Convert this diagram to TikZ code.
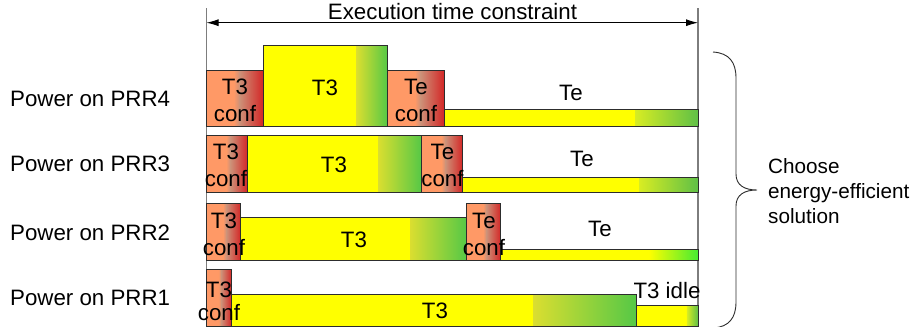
\documentclass[tikz,border=0pt]{standalone}
\usepackage{fontspec}
\setmainfont{Liberation Sans}
\usetikzlibrary{arrows.meta}

\definecolor{salmon}{RGB}{255,153,102}
\definecolor{confmid}{RGB}{205,145,120}
\definecolor{confred}{RGB}{212,38,38}
\definecolor{runyel}{RGB}{255,255,0}
\definecolor{runstart}{RGB}{218,222,48}
\definecolor{rungrn}{RGB}{85,200,70}
\definecolor{stripe}{RGB}{215,236,35}
\definecolor{bargrn}{RGB}{95,192,70}
\definecolor{brightgrn}{RGB}{70,235,50}
\definecolor{edge}{RGB}{45,45,45}
\definecolor{guide}{RGB}{125,125,125}

% configuration slot: salmon, then a darkening blend to red
\newcommand\confslot[4]{%
  \pgfmathsetmacro\cxa{#1+0.48*(#3-#1)}%
  \pgfmathsetmacro\cxb{#1+0.58*(#3-#1)}%
  \fill[salmon] (#1,#2) rectangle (\cxa,#4);
  \shade[left color=salmon, right color=confmid] (\cxa,#2) rectangle (\cxb,#4);
  \shade[left color=confmid, right color=confred] (\cxb,#2) rectangle (#3,#4);
  \draw[boxedge] (#1,#2) rectangle (#3,#4);
}
% execution slot: yellow, then a blend from #6 to #7 after fraction #5
\newcommand\execslot[7]{%
  \pgfmathsetmacro\exa{#1+#5*(#3-#1)}%
  \fill[runyel] (#1,#2) rectangle (\exa,#4);
  \shade[left color=#6, right color=#7] (\exa,#2) rectangle (#3,#4);
  \draw[boxedge] (#1,#2) rectangle (#3,#4);
}

\tikzset{
  boxedge/.style={draw=edge, line width=1pt},
  txt/.style={anchor=base, inner sep=0pt, font=\fontsize{22.3}{26}\selectfont},
  rowlabel/.style={anchor=base west, inner sep=0pt, font=\fontsize{22.3}{26}\selectfont},
  guideline/.style={draw=guide, line width=1.2pt},
}

\begin{document}
\begin{tikzpicture}[x=1pt, y=-1pt]
\useasboundingbox (0,0) rectangle (914,327);

% time window limits and the constraint arrow
\coordinate (gl0) at (206.5,8);
\coordinate (gl1) at (206.5,328);
\coordinate (gr0) at (698,8);
\coordinate (gr1) at (698,328);
\draw[guideline] (gl0) -- (gl1);
\draw[guideline] (gr0) -- (gr1);
\coordinate (al) at (206.5,22.7);
\coordinate (ar) at (698,22.7);
\draw[line width=0.9pt, {Latex[length=12pt,width=7pt]}-{Latex[length=12pt,width=7pt]}] (al) -- (ar);
\node[txt] (etc) at (452.5,19.5) {Execution time constraint};

% row labels
\node[rowlabel] (l4) at (10,106) {Power on PRR4};
\node[rowlabel] (l3) at (10,171.5) {Power on PRR3};
\node[rowlabel] (l2) at (10,240) {Power on PRR2};
\node[rowlabel] (l1) at (10,305) {Power on PRR1};

% PRR4
\confslot{206.5}{70}{263.3}{126.7}
\execslot{263.3}{45}{387.7}{126.7}{0.75}{runstart}{rungrn}
\confslot{387.7}{70}{444.3}{126.7}
\execslot{444.3}{109}{698}{126.7}{0.752}{stripe}{bargrn}

% PRR3
\confslot{206.5}{135.7}{247.7}{192}
\execslot{247.7}{135.7}{421.7}{192}{0.75}{runstart}{rungrn}
\confslot{421.7}{135.7}{462.7}{192}
\execslot{462.7}{177.7}{698}{192}{0.752}{stripe}{bargrn}

% PRR2
\confslot{206.5}{203.3}{240.7}{260}
\execslot{240.7}{217.3}{466.7}{260}{0.75}{runstart}{rungrn}
\confslot{466.7}{203.3}{500.7}{260}
\execslot{500.7}{249.3}{698}{260}{0.75}{runyel}{brightgrn}

% PRR1
\confslot{206.5}{269.3}{231.7}{326}
\execslot{231.7}{294}{636.7}{326}{0.745}{runstart}{rungrn}
\execslot{636.7}{305.7}{698}{326}{0.82}{stripe}{bargrn}

% labels, PRR4
\node[txt] (c4a) at (235,94.5) {T3};
\node[txt] (c4b) at (235,121) {conf};
\node[txt] (r4) at (325,95) {T3};
\node[txt] (e4a) at (416,94) {Te};
\node[txt] (e4b) at (416,121) {conf};
\node[txt] (t4) at (571,100) {Te};

% labels, PRR3
\node[txt] (c3a) at (226,159) {T3};
\node[txt] (c3b) at (226,186.5) {conf};
\node[txt] (r3) at (334,172.5) {T3};
\node[txt] (e3a) at (442.5,159) {Te};
\node[txt] (e3b) at (442.5,186.5) {conf};
\node[txt] (t3) at (582,166.5) {Te};

% labels, PRR2
\node[txt] (c2a) at (224,228) {T3};
\node[txt] (c2b) at (224,255) {conf};
\node[txt] (r2) at (354,247.5) {T3};
\node[txt] (e2a) at (484,228) {Te};
\node[txt] (e2b) at (484,255) {conf};
\node[txt] (t2) at (600,236.5) {Te};

% labels, PRR1
\node[txt] (c1a) at (219,297) {T3};
\node[txt] (c1b) at (219,320) {conf};
\node[txt] (r1) at (435,318) {T3};
\node[txt] (i1) at (667,298) {T3 idle};

% brace and decision note
\draw[line width=0.9pt, edge]
  (713,52) .. controls (729,53) and (736,62) .. (736,78)
  -- (736,174) .. controls (736,185) and (744,190) .. (757,190)
  .. controls (744,190) and (736,195) .. (736,206)
  -- (736,302) .. controls (736,318) and (729,327) .. (713,328);
\node[anchor=base west, inner sep=0pt, align=left,
      font=\fontsize{20.7}{25}\selectfont] (note) at (768,223)
  {Choose\\energy-efficient\\solution};
\end{tikzpicture}
\end{document}
